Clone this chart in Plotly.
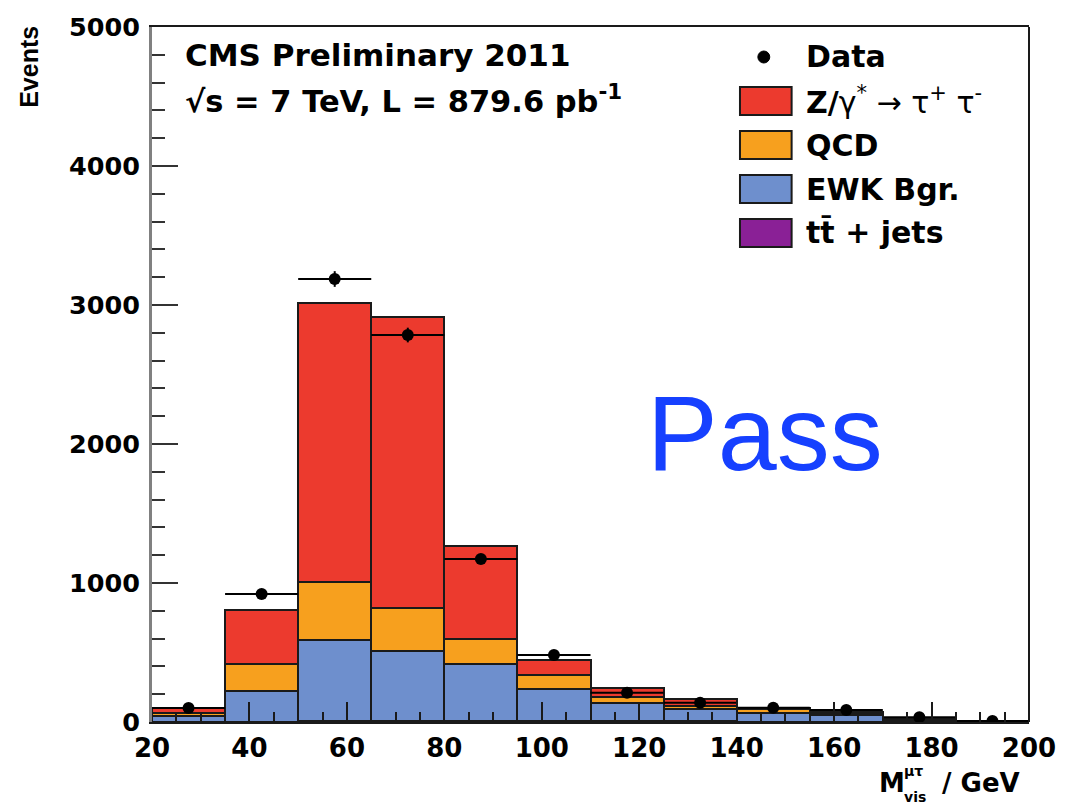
import numpy as np
import plotly.graph_objects as go

# Binning: 12 bins of 15 GeV from 20 to 200 GeV
bin_edges = [20, 35, 50, 65, 80, 95, 110, 125, 140, 155, 170, 185, 200]
bin_centers = [27.5, 42.5, 57.5, 72.5, 87.5, 102.5, 117.5, 132.5, 147.5, 162.5, 177.5, 192.5]

# Stacked background contributions (events per bin)
ttbar = [0.5, 2, 4, 5, 5, 5, 4, 4, 3, 2, 2, 1]
ewk = [42, 221, 586, 506, 412, 232, 135, 90, 59, 48, 6, 3]
qcd = [20, 194, 417, 309, 180, 101, 41, 21, 30, 8, 4, 2]
ztautau = [37, 389, 2007, 2094, 669, 108, 65, 48, 7, 16, 8, 3]

# Observed data
data = [100, 921, 3187, 2784, 1173, 482, 211, 139, 103, 86, 35, 8]

x_ticks = [20, 40, 60, 80, 100, 120, 140, 160, 180, 200]
y_ticks = [0, 1000, 2000, 3000, 4000, 5000]

C_RED = "#ec3a2e"
C_ORANGE = "#f7a01e"
C_BLUE = "#6e8fcd"
C_PURPLE = "#8a2096"
ROOT_FONT = "DejaVu Sans"

W, H = 1068, 807
L, R, T, B = 152, 33, 27, 85
PW, PH = W - L - R, H - T - B


def px(xp):
    return (xp - L) / PW


def py(yp):
    return (H - B - yp) / PH


bin_width = bin_edges[1] - bin_edges[0]

fig = go.Figure()
for name, vals, col in [
    ("tt̄ + jets", ttbar, C_PURPLE),
    ("EWK Bgr.", ewk, C_BLUE),
    ("QCD", qcd, C_ORANGE),
    ("Z/γ* → τ⁺ τ⁻", ztautau, C_RED),
]:
    fig.add_trace(go.Bar(
        x=bin_centers, y=vals, width=bin_width, name=name,
        marker=dict(color=col, line=dict(color="#1a1a1a", width=2)),
        showlegend=False,
    ))

fig.add_trace(go.Scatter(
    x=bin_centers, y=data, mode="markers", name="Data",
    marker=dict(color="black", size=12),
    error_x=dict(type="constant", value=bin_width / 2, color="black", thickness=2, width=0),
    error_y=dict(type="data", array=list(np.sqrt(data)), color="black", thickness=2, width=0),
    showlegend=False,
))

fig.update_layout(
    width=W, height=H,
    margin=dict(l=L, r=R, t=T, b=B, pad=0),
    paper_bgcolor="white", plot_bgcolor="white",
    barmode="stack", bargap=0,
    showlegend=False,
    font=dict(family=ROOT_FONT, color="black"),
)

fig.update_xaxes(
    range=[20, 200], tickvals=x_ticks, ticks="inside", ticklen=20, tickwidth=2,
    tickcolor="#1a1a1a",
    minor=dict(dtick=5, ticks="inside", ticklen=10, tickwidth=2, tickcolor="#1a1a1a"),
    tickfont=dict(family=ROOT_FONT, size=26, weight="bold"),
    showline=True, linecolor="#1a1a1a", linewidth=2, mirror=True,
    showgrid=False, zeroline=False, ticklabelstandoff=2,
)
fig.update_yaxes(
    range=[0, 5000], tickvals=y_ticks, ticks="inside", ticklen=26, tickwidth=2,
    tickcolor="#333333",
    minor=dict(dtick=200, ticks="inside", ticklen=13, tickwidth=2, tickcolor="#333333"),
    tickfont=dict(family=ROOT_FONT, size=25.5, weight="bold"),
    showline=True, linecolor="#808080", linewidth=3,
    showgrid=False, zeroline=False, ticklabelstandoff=4,
)

# right frame border
fig.add_shape(type="line", xref="x domain", yref="y domain", x0=1, x1=1, y0=0, y1=1,
              line=dict(color="#1a1a1a", width=2))

ann = []
bold = lambda size, fam=ROOT_FONT: dict(family=fam, size=size, weight="bold")

# y-axis title
ann.append(dict(x=px(28), y=py(24), xref="paper", yref="paper", text="Events",
                textangle=-90, xanchor="center", yanchor="top", showarrow=False,
                font=bold(25, "Liberation Sans")))

# x-axis title: M with stacked super/subscript, then unit
ann.append(dict(x=px(882), y=py(783), xref="paper", yref="paper", text="M",
                xanchor="left", yanchor="middle", showarrow=False, font=bold(26)))
ann.append(dict(x=px(907), y=py(771), xref="paper", yref="paper", text="μτ",
                xanchor="left", yanchor="middle", showarrow=False, font=bold(14)))
ann.append(dict(x=px(907), y=py(797), xref="paper", yref="paper", text="vis",
                xanchor="left", yanchor="middle", showarrow=False, font=bold(14)))
ann.append(dict(x=px(1028), y=py(783), xref="paper", yref="paper", text="/ GeV",
                xanchor="right", yanchor="middle", showarrow=False, font=bold(26)))

# header text
ann.append(dict(x=px(183), y=py(55), xref="paper", yref="paper", text="CMS Preliminary 2011",
                xanchor="left", yanchor="middle", showarrow=False, font=bold(31)))
ann.append(dict(x=px(183), y=py(99), xref="paper", yref="paper",
                text="√s = 7 TeV, L = 879.6 pb<sup>-1</sup>",
                xanchor="left", yanchor="middle", showarrow=False, font=bold(30.5)))

# selection label
ann.append(dict(x=px(769), y=py(433), xref="paper", yref="paper", text="Pass",
                xanchor="center", yanchor="middle", showarrow=False,
                font=dict(family="Liberation Sans", size=106, color="#1640ff")))

# legend
thin = "<span style='font-weight:normal'>{}</span>"
legend_rows = [
    ("Z/" + thin.format("γ<sup>*</sup> → τ<sup>+</sup> τ<sup>-</sup>"), C_RED, 101),
    ("QCD", C_ORANGE, 145),
    ("EWK Bgr.", C_BLUE, 189),
    ("tt̄ + jets", C_PURPLE, 233),
]
fig.add_shape(type="circle", xref="paper", yref="paper",
              x0=px(762), x1=px(774), y0=py(63), y1=py(51),
              fillcolor="black", line=dict(color="black", width=1))
ann.append(dict(x=px(808), y=py(57), xref="paper", yref="paper", text="Data",
                xanchor="left", yanchor="middle", showarrow=False, font=bold(30)))
for label, col, yc in legend_rows:
    fig.add_shape(type="rect", xref="paper", yref="paper",
                  x0=px(744), x1=px(796), y0=py(yc + 14), y1=py(yc - 14),
                  fillcolor=col, line=dict(color="#1a1a1a", width=2))
    ann.append(dict(x=px(808), y=py(yc), xref="paper", yref="paper", text=label,
                    xanchor="left", yanchor="middle", showarrow=False, font=bold(30)))

fig.update_layout(annotations=ann)
fig.write_html("out.html")
